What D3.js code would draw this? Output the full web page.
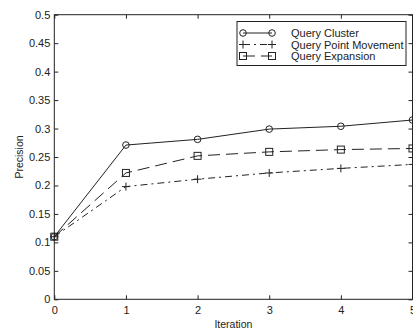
<!DOCTYPE html>
<html><head><meta charset="utf-8">
<script src="https://cdn.jsdelivr.net/npm/d3@7"></script>
<style>body{margin:0;background:#fff}svg{display:block}text{font-family:"Liberation Sans",Arial,sans-serif;fill:#222}</style>
</head><body><svg id="c" width="413" height="331"></svg>
<script>
const iterations = [0,1,2,3,4,5];
const queryCluster = [0.11,0.271,0.281,0.299,0.304,0.315];
const queryPointMovement = [0.11,0.198,0.211,0.222,0.230,0.237];
const queryExpansion = [0.11,0.222,0.252,0.259,0.263,0.265];
const yTicks = [0,0.05,0.1,0.15,0.2,0.25,0.3,0.35,0.4,0.45,0.5];
const xTicks = [0,1,2,3,4,5];
const seriesNames = ["Query Cluster","Query Point Movement","Query Expansion"];

const svg = d3.select("#c");
const L=54.3, R=412.5, T=14.7, B=299.3;
const x = d3.scaleLinear().domain([0,5]).range([L,R]);
const y = d3.scaleLinear().domain([0,0.5]).range([B,T]);
const col="#222";

// frame
svg.append("rect").attr("x",L).attr("y",T).attr("width",R-L).attr("height",B-T)
  .attr("fill","none").attr("stroke",col).attr("stroke-width",1);

// axes with inward ticks
const gl = svg.append("g").attr("transform",`translate(${L},0)`)
  .call(d3.axisLeft(y).tickValues(yTicks).tickSize(-4).tickPadding(4).tickFormat(d=>d3.format("")(+d.toFixed(2))));
const gb = svg.append("g").attr("transform",`translate(0,${B})`)
  .call(d3.axisBottom(x).tickValues(xTicks).tickSize(-4).tickPadding(7).tickFormat(d3.format("d")));
const gr = svg.append("g").attr("transform",`translate(${R},0)`)
  .call(d3.axisRight(y).tickValues(yTicks).tickSize(-4).tickFormat(""));
const gt = svg.append("g").attr("transform",`translate(0,${T})`)
  .call(d3.axisTop(x).tickValues(xTicks).tickSize(-4).tickFormat(""));
[gl,gb,gr,gt].forEach(g=>{
  g.select(".domain").remove();
  g.selectAll("line").attr("stroke",col);
  g.selectAll("text").attr("font-size",11).attr("fill","#333").attr("font-family","Liberation Sans, Arial, sans-serif");
});

// labels
svg.append("text").attr("x",(L+R)/2).attr("y",328).attr("text-anchor","middle").attr("font-size",10.5).text("Iteration");
svg.append("text").attr("transform",`translate(23,${(T+B)/2}) rotate(-90)`).attr("text-anchor","middle").attr("font-size",10.5).text("Precision");

const series = [
  {name:seriesNames[0], vals:queryCluster, dash:null, marker:"circle"},
  {name:seriesNames[1], vals:queryPointMovement, dash:"7,4,2,4", marker:"plus"},
  {name:seriesNames[2], vals:queryExpansion, dash:"12,6", marker:"square"}
];
const line = d3.line().x((d,i)=>x(iterations[i])).y(d=>y(d));

function drawMarker(g, type, cx, cy){
  if(type==="circle") g.append("circle").attr("cx",cx).attr("cy",cy).attr("r",3.3).attr("fill","none").attr("stroke",col);
  else if(type==="square") g.append("rect").attr("x",cx-3.5).attr("y",cy-3.5).attr("width",7).attr("height",7).attr("fill","none").attr("stroke",col);
  else g.append("path").attr("d",`M${cx-4},${cy}H${cx+4}M${cx},${cy-4}V${cy+4}`).attr("stroke",col);
}

const plot = svg.append("g");
series.forEach(s=>{
  plot.append("path").datum(s.vals).attr("d",line).attr("fill","none").attr("stroke",col)
    .attr("stroke-width",1).attr("stroke-dasharray",s.dash);
  s.vals.forEach((v,i)=>drawMarker(plot,s.marker,x(iterations[i]),y(v)));
});

// legend
const lg = svg.append("g");
lg.append("rect").attr("x",237).attr("y",21.5).attr("width",169).attr("height",44)
  .attr("fill","#fff").attr("stroke",col);
series.forEach((s,i)=>{
  const yy = 33 + i*11.5;
  lg.append("path").attr("d",`M243,${yy}H272`).attr("stroke",col).attr("stroke-dasharray",s.dash);
  drawMarker(lg,s.marker,243,yy);
  drawMarker(lg,s.marker,272,yy);
  lg.append("text").attr("x",291).attr("y",yy+4).attr("font-size",11).text(s.name);
});
</script></body></html>
